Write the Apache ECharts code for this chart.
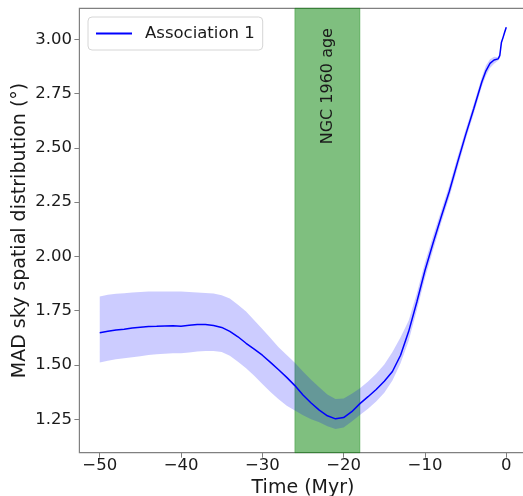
<!DOCTYPE html>
<html>
<head>
<meta charset="utf-8">
<script src="https://cdn.jsdelivr.net/npm/echarts@6/dist/echarts.min.js"></script>
<style>html,body{margin:0;padding:0;background:#fff;}#c{width:523px;height:496px;}</style>
</head>
<body>
<div id="c"></div>
<script>
var times = [-50,-49,-48,-47,-46,-45,-44,-43,-42,-41,-40,-39,-38,-37,-36,-35,-34,-33,-32,-31,-30,-29,-28,-27,-26,-25,-24,-23,-22,-21,-20,-19,-18,-17,-16,-15,-14,-13,-12,-11,-10,-9,-8,-7,-6,-5,-4,-3,-2.5,-2,-1.5,-1,-0.8,-0.6,-0.4,-0.2,0];
var meanVals = [1.649,1.655,1.661,1.665,1.670,1.674,1.677,1.678,1.680,1.681,1.679,1.683,1.687,1.686,1.682,1.673,1.655,1.630,1.600,1.573,1.545,1.512,1.478,1.443,1.405,1.362,1.325,1.292,1.266,1.252,1.258,1.285,1.322,1.354,1.387,1.425,1.470,1.545,1.655,1.790,1.935,2.062,2.183,2.300,2.432,2.560,2.680,2.805,2.855,2.889,2.905,2.910,2.925,2.985,3.008,3.033,3.056];
var upperVals = [1.815,1.823,1.828,1.830,1.834,1.836,1.838,1.838,1.838,1.839,1.838,1.836,1.834,1.832,1.829,1.821,1.806,1.778,1.746,1.706,1.666,1.624,1.582,1.546,1.510,1.470,1.432,1.397,1.364,1.343,1.346,1.368,1.393,1.424,1.460,1.502,1.560,1.628,1.705,1.830,1.972,2.095,2.212,2.328,2.458,2.583,2.702,2.826,2.880,2.908,2.920,2.918,2.935,2.993,3.014,3.038,3.060];
var lowerVals = [1.511,1.520,1.527,1.531,1.536,1.540,1.546,1.549,1.552,1.554,1.554,1.558,1.562,1.565,1.565,1.560,1.543,1.515,1.485,1.450,1.412,1.376,1.342,1.312,1.290,1.268,1.250,1.236,1.218,1.205,1.212,1.240,1.270,1.298,1.332,1.372,1.428,1.508,1.612,1.752,1.900,2.030,2.155,2.273,2.405,2.537,2.657,2.783,2.832,2.868,2.888,2.902,2.916,2.978,3.002,3.028,3.052];
var xTicks = [-50,-40,-30,-20,-10,0];
var yTicks = [1.25,1.50,1.75,2.00,2.25,2.50,2.75,3.00];
var ageSpan = [-26,-18];
var spanLabelPos = [-22, 3.052];
var seriesName = 'Association 1';
var spanLabel = 'NGC 1960 age';
var xTitle = 'Time (Myr)';
var yTitle = 'MAD sky spatial distribution (°)';

var FONT = 'DejaVu Sans';
var meanData = times.map(function(t,i){return [t, meanVals[i]];});

var chart = echarts.init(document.getElementById('c'), null, {renderer:'canvas'});
var option = {
  animation:false,
  backgroundColor:'#ffffff',
  grid:{left:79.4, top:8.3, width:447.2, height:444.4, outerBoundsMode:'none', containLabel:false,
    show:true, borderColor:'#808080', borderWidth:1.2, backgroundColor:'transparent'},
  legend:{
    data:[seriesName], left:88, top:17, orient:'vertical',
    padding:[8,8,8,7], itemWidth:36, itemHeight:14,
    itemStyle:{opacity:0},
    borderColor:'#d6d6d6', borderWidth:1, borderRadius:4, backgroundColor:'#fff',
    textStyle:{fontFamily:FONT, fontSize:16.5, color:'#1a1a1a', padding:[0,0,0,8]}
  },
  xAxis:{
    type:'value', min:-52.5, max:2.5,
    name:xTitle, nameLocation:'middle', nameGap:26, nameMoveOverlap:false,
    nameTextStyle:{fontFamily:FONT, fontSize:19, color:'#1a1a1a'},
    axisLine:{show:false, onZero:false},
    splitLine:{show:false},
    axisTick:{show:true, length:5, lineStyle:{color:'#808080'}, customValues:xTicks},
    axisLabel:{fontFamily:FONT, fontSize:16.5, color:'#1a1a1a', margin:5, customValues:xTicks,
      formatter:function(v){return v<0?'\u2212'+Math.abs(v):String(v);}}
  },
  yAxis:{
    type:'value', min:1.096, max:3.143,
    name:yTitle, nameLocation:'middle', nameGap:50, nameRotate:90, nameMoveOverlap:false,
    nameTextStyle:{fontFamily:FONT, fontSize:19, color:'#1a1a1a'},
    axisLine:{show:false, onZero:false},
    splitLine:{show:false},
    axisTick:{show:true, length:5, lineStyle:{color:'#808080'}, customValues:yTicks},
    axisLabel:{fontFamily:FONT, fontSize:16.5, color:'#1a1a1a', margin:7.5, customValues:yTicks,
      formatter:function(v){return v.toFixed(2);}}
  },
  series:[
    {name:'band', type:'custom', data:[[0]], z:2, silent:true, clip:true,
      renderItem:function(params, api){
        var pts = [];
        for (var i=0;i<times.length;i++) pts.push(api.coord([times[i], upperVals[i]]));
        for (var j=times.length-1;j>=0;j--) pts.push(api.coord([times[j], lowerVals[j]]));
        return {type:'polygon', shape:{points:pts}, style:{fill:'rgba(0,0,255,0.2)', stroke:'none'}};
      }},
    {name:'span', type:'line', data:[], z:3, silent:true,
      markArea:{silent:true, itemStyle:{color:'rgba(0,128,0,0.5)', borderColor:'rgba(0,128,0,0.35)', borderWidth:1},
        data:[[{xAxis:ageSpan[0]},{xAxis:ageSpan[1]}]]}},
    {name:seriesName, type:'line', data:meanData, symbol:'none', z:4,
      lineStyle:{color:'#0000ff', width:1.5}, itemStyle:{color:'#0000ff'}}
  ]
};
chart.setOption(option);
var p = chart.convertToPixel({gridIndex:0}, spanLabelPos);
chart.setOption({graphic:[{type:'text', x:p[0], y:p[1], rotation:Math.PI/2, z:10,
  style:{text:spanLabel, fontFamily:FONT, fontSize:16, fill:'#1a1a1a', align:'right', verticalAlign:'middle'}}]});
</script>
</body>
</html>
